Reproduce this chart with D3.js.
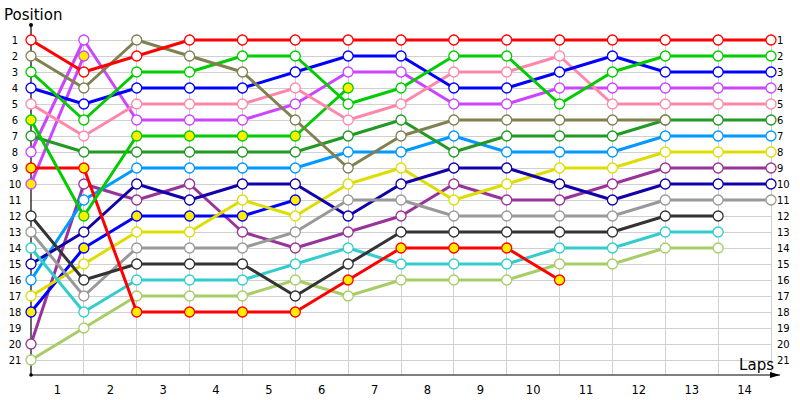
<!DOCTYPE html>
<html><head><meta charset="utf-8">
<script src="https://cdn.jsdelivr.net/npm/d3@7"></script>
<style>body{margin:0;background:#fff}svg{display:block}</style>
</head><body><svg id="c" width="800" height="400"></svg>
<script>
const laps = [0,1,2,3,4,5,6,7,8,9,10,11,12,13,14];
const lapLabels = ["1","2","3","4","5","6","7","8","9","10","11","12","13","14"];
const positions = [1,2,3,4,5,6,7,8,9,10,11,12,13,14,15,16,17,18,19,20,21];

const sRed       = [1,3,2,1,1,1,1,1,1,1,1,1,1,1,1];
const sOlive     = [2,4,1,2,3,6,9,7,6,6,6,6,6,null,null];
const sGreen     = [3,6,3,3,2,2,5,4,2,2,5,3,2,2,2];
const sBlue      = [4,5,4,4,4,3,2,2,4,4,3,2,3,3,3];
const sPink      = [5,7,5,5,5,4,6,5,3,3,2,5,5,5,5];
const sGreenY    = [6,12,7,7,7,7,4,null,null,null,null,null,null,null,null];
const sDarkGreen = [7,8,8,8,8,8,7,6,8,7,7,7,6,6,6];
const sViolet    = [8,1,6,6,6,5,3,3,5,5,4,4,4,4,4];
const sRedY      = [9,9,18,18,18,18,16,14,14,14,16,null,null,null,null];
const sVioletY   = [10,2,null,null,null,null,null,null,null,null,null,null,null,null,null];
const sBlack     = [12,16,15,15,15,17,15,13,13,13,13,13,12,12,null];
const sGray      = [13,17,14,14,14,13,11,11,12,12,12,12,11,11,11];
const sCyan      = [14,18,16,16,16,15,14,15,15,15,14,14,13,13,null];
const sNavy      = [15,13,10,11,10,10,12,10,9,9,10,11,10,10,10];
const sLightBlue = [16,11,9,9,9,9,8,8,7,8,8,8,7,7,7];
const sYellow    = [17,15,13,13,11,12,10,9,11,10,9,9,8,8,8];
const sBlueY     = [18,14,12,12,12,11,null,null,null,null,null,null,null,null,null];
const sMagenta   = [20,10,11,10,13,14,13,12,10,11,11,10,9,9,9];
const sLightGreen= [21,19,17,17,17,16,17,16,16,16,15,15,14,14,null];

const seriesValues = [sLightGreen,sMagenta,sBlueY,sYellow,sLightBlue,sNavy,sCyan,sGray,sBlack,sVioletY,sRedY,sViolet,sDarkGreen,sGreenY,sPink,sBlue,sGreen,sOlive,sRed];
const seriesColors = ["#a8cc66","#993399","#0000ff","#dddd00","#0099ff","#1100aa","#33cccc","#999999","#333333","#cc44ff","#ff0000","#cc44ff","#229922","#00cc00","#ff88aa","#0000ff","#00cc00","#808050","#ff0000"];
const seriesYellow = [false,false,true,false,false,false,false,false,false,true,true,false,false,true,false,false,false,false,false];

const svg = d3.select("#c");
const x = d3.scaleLinear().domain([0,14]).range([31,771]);
const y = d3.scaleLinear().domain([1,21]).range([40,360]);
const font = "'DejaVu Sans', Verdana, sans-serif";

// grid
svg.append("g").selectAll("line").data(positions).join("line")
  .attr("x1",x(0)).attr("x2",x(14)).attr("y1",d=>y(d)).attr("y2",d=>y(d))
  .attr("stroke","#d0d0d0").attr("stroke-width",1).attr("shape-rendering","crispEdges");
svg.append("g").selectAll("line").data(laps.slice(1)).join("line")
  .attr("x1",d=>x(d)).attr("x2",d=>x(d)).attr("y1",34).attr("y2",375)
  .attr("stroke","#d0d0d0").attr("stroke-width",1).attr("shape-rendering","crispEdges");

// axes lines
svg.append("line").attr("x1",31).attr("x2",31).attr("y1",25).attr("y2",375).attr("stroke","#000").attr("stroke-width",1.2);
svg.append("circle").attr("cx",31).attr("cy",25).attr("r",2).attr("fill","#000");
svg.append("circle").attr("cx",31).attr("cy",375).attr("r",1.8).attr("fill","#000");
svg.append("line").attr("x1",31).attr("x2",780).attr("y1",375).attr("y2",375).attr("stroke","#000").attr("stroke-width",1.2);
svg.append("path").attr("d","M770,372 L780,375 L770,378 Z").attr("fill","#000");

// left & right labels via axes
const yAxisL = d3.axisLeft(y).tickValues(positions).tickSize(0).tickPadding(0);
const gl = svg.append("g").attr("transform","translate(22,0)").call(yAxisL);
gl.select(".domain").remove();
gl.selectAll("text").attr("font-family",font).attr("font-size",10).attr("fill","#000").attr("text-anchor","middle").attr("x",-7);
const yAxisR = d3.axisRight(y).tickValues(positions).tickSize(0).tickPadding(0);
const gr = svg.append("g").attr("transform","translate(777,0)").call(yAxisR);
gr.select(".domain").remove();
gr.selectAll("text").attr("font-family",font).attr("font-size",10).attr("fill","#000");

// bottom lap labels
const xb = d3.scaleBand().domain(lapLabels).range([x(0),x(14)]);
const gx = svg.append("g").attr("transform","translate(0,383)").call(d3.axisBottom(xb).tickSize(0).tickPadding(3));
gx.select(".domain").remove();
gx.selectAll("text").attr("font-family",font).attr("font-size",11.5).attr("fill","#000");

// titles
svg.append("text").attr("x",4).attr("y",20).text("Position").attr("font-family",font).attr("font-size",15).attr("fill","#000");
svg.append("text").attr("x",774).attr("y",370).attr("text-anchor","end").text("Laps").attr("font-family",font).attr("font-size",15).attr("fill","#000");

// series
const line = d3.line().defined(d=>d.v!=null).x(d=>x(d.lap)).y(d=>y(d.v));
seriesValues.forEach((vals,i)=>{
  const pts = vals.map((v,j)=>({lap:laps[j],v}));
  const g = svg.append("g");
  g.append("path").datum(pts).attr("d",line).attr("fill","none")
    .attr("stroke",seriesColors[i]).attr("stroke-width",3).attr("stroke-linejoin","round");
  g.selectAll("circle").data(pts.filter(d=>d.v!=null)).join("circle")
    .attr("cx",d=>x(d.lap)).attr("cy",d=>y(d.v)).attr("r",5)
    .attr("fill",seriesYellow[i]?"#ffee00":"#fff")
    .attr("stroke",seriesColors[i]).attr("stroke-width",1.3);
});
</script></body></html>
